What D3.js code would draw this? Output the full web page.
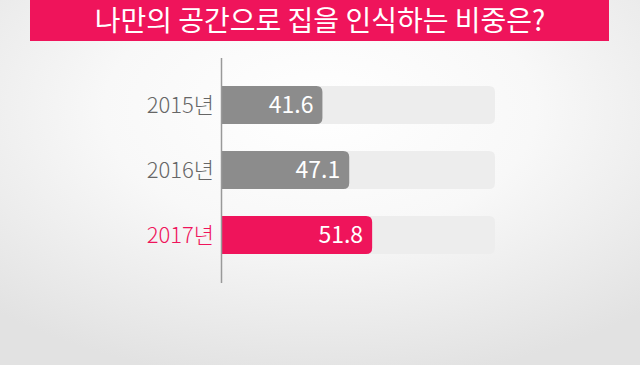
<!DOCTYPE html>
<html>
<head>
<meta charset="utf-8">
<script src="https://cdn.jsdelivr.net/npm/d3@7"></script>
<style>
  html, body { margin: 0; padding: 0; }
  body { width: 640px; height: 365px; overflow: hidden; }
  svg { display: block; font-family: "Noto Sans CJK KR", "Noto Sans", sans-serif; }
</style>
</head>
<body>
<div id="chart"></div>
<script>
// Data
const title = '나만의 공간으로 집을 인식하는 비중은?';
const years = ['2015년', '2016년', '2017년'];
const shares = [41.6, 47.1, 51.8];
const highlightYear = '2017년';

const W = 640, H = 365;
const PINK = '#ef145b';
const GREY = '#8c8c8c';

const svg = d3.select('#chart').append('svg')
    .attr('width', W)
    .attr('height', H);

// Soft radial backdrop
const defs = svg.append('defs');
const grad = defs.append('radialGradient')
    .attr('id', 'bg')
    .attr('cx', '50%').attr('cy', '30%')
    .attr('r', '75%');
grad.append('stop').attr('offset', '0%').attr('stop-color', '#ffffff');
grad.append('stop').attr('offset', '45%').attr('stop-color', '#f8f8f8');
grad.append('stop').attr('offset', '100%').attr('stop-color', '#e2e2e2');
svg.append('rect').attr('width', W).attr('height', H).attr('fill', 'url(#bg)');

// Title banner
svg.append('rect')
    .attr('x', 30).attr('y', 0)
    .attr('width', 579).attr('height', 41)
    .attr('fill', PINK);
svg.append('text')
    .attr('x', 320).attr('y', 31)
    .attr('text-anchor', 'middle')
    .attr('fill', '#fff')
    .style('font-size', '28px')
    .style('font-weight', 400)
    .text(title);

// Scales (bars measured against the grey track)
const x = d3.scaleLinear().domain([21, 77]).range([222, 495]);
const y = d3.scaleBand().domain(years).range([73, 267]).paddingInner(0.415).paddingOuter(0.2);

const barH = y.bandwidth();
const r = 6;

// Rounded-right bar path
const barPath = (x0, x1, y0, h) => {
    const rr = Math.min(r, (x1 - x0) / 2);
    return `M${x0},${y0}H${x1 - rr}Q${x1},${y0} ${x1},${y0 + rr}` +
        `V${y0 + h - rr}Q${x1},${y0 + h} ${x1 - rr},${y0 + h}H${x0}Z`;
};

const rows = svg.selectAll('.row')
    .data(years.map((yr, i) => ({ year: yr, value: shares[i] })))
    .enter()
    .append('g')
    .attr('class', 'row');

// Track
rows.append('path')
    .attr('fill', '#ededed')
    .attr('d', d => barPath(x.range()[0], x.range()[1], y(d.year), barH));

// Value bar
rows.append('path')
    .attr('fill', d => d.year === highlightYear ? PINK : GREY)
    .attr('d', d => barPath(x.range()[0], x(d.value), y(d.year), barH));

// Value label inside bar
rows.append('text')
    .attr('x', d => x(d.value) - 9)
    .attr('y', d => y(d.year) + barH / 2)
    .attr('dy', '0.36em')
    .attr('text-anchor', 'end')
    .attr('fill', '#fff')
    .style('font-size', '23px')
    .text(d => d.value.toFixed(1));

// Year labels
rows.append('text')
    .attr('x', 214)
    .attr('y', d => y(d.year) + barH / 2)
    .attr('dy', '0.36em')
    .attr('text-anchor', 'end')
    .attr('fill', d => d.year === highlightYear ? PINK : '#666')
    .style('font-size', '22px')
    .style('font-weight', 300)
    .text(d => d.year);

// Axis line
svg.append('line')
    .attr('x1', 221.5).attr('x2', 221.5)
    .attr('y1', 58).attr('y2', 283)
    .attr('stroke', '#999')
    .attr('stroke-width', 1.5);
</script>
</body>
</html>
